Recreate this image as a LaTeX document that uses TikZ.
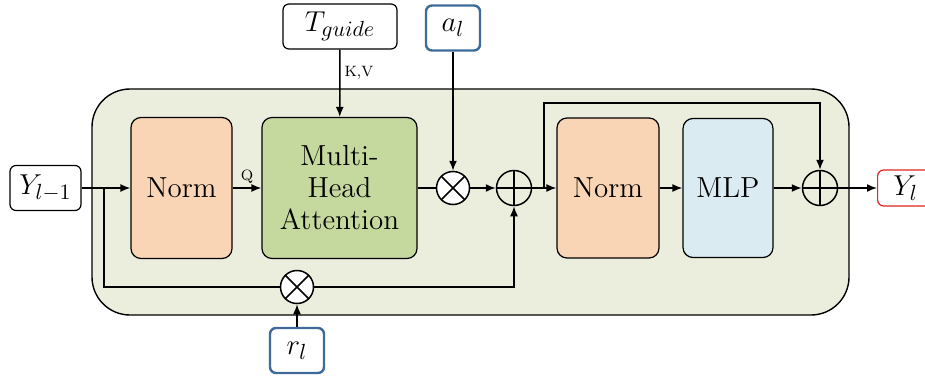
\documentclass[tikz,border=0pt]{standalone}
\usetikzlibrary{positioning,arrows.meta}
\definecolor{outerbg}{HTML}{EBEEDD}
\definecolor{normfill}{HTML}{F9D5B5}
\definecolor{attnfill}{HTML}{C5D89D}
\definecolor{mlpfill}{HTML}{DAEBF2}
\definecolor{gateblue}{HTML}{3F6A9A}
\definecolor{outred}{HTML}{E02424}
\DeclareMathSizes{14.5}{14.5}{11}{8.5}

\begin{document}
\begin{tikzpicture}[x=0.5pt, y=-0.5pt,
    >={Latex[length=5pt,width=4pt]}, line width=0.75pt,
    block/.style={draw, rounded corners=5pt, line width=0.6pt, align=center,
      inner sep=0pt, font=\fontsize{14.5}{16}\selectfont},
    tok/.style={draw, rounded corners=3pt, line width=0.6pt, fill=white,
      inner sep=0pt, minimum height=22.5pt, font=\fontsize{14.5}{16}\selectfont},
    gate/.style={tok, draw=gateblue, line width=1.2pt, minimum width=27pt},
    mulop/.style={circle, draw, fill=white, minimum size=16.5pt, inner sep=0pt,
      path picture={\draw (path picture bounding box.north west) -- (path picture bounding box.south east)
        (path picture bounding box.north east) -- (path picture bounding box.south west);}},
    addop/.style={circle, draw, minimum size=17.5pt, inner sep=0pt,
      path picture={\draw (path picture bounding box.north) -- (path picture bounding box.south)
        (path picture bounding box.west) -- (path picture bounding box.east);}},
    lab/.style={font=\fontsize{7.5}{9}\selectfont, inner sep=2pt}]
  \useasboundingbox (0,0) rectangle (925,375);

  % block frame
  \draw[fill=outerbg, rounded corners=19pt, line width=0.7pt] (92,89) rectangle (849,315);

  % inputs and blocks
  \node[tok, minimum width=35.5pt] (yin) at (45.5,188) {$Y_{l-1}$};
  \node[block, fill=normfill, minimum width=50.5pt, minimum height=70.5pt] (norm1) at (181.5,188) {Norm};
  \node[block, fill=attnfill, minimum width=77.5pt, minimum height=70.5pt] (mha) at (339.5,188) {Multi-\\Head\\Attention};
  \node[tok, minimum width=57pt] (guide) at (340,26.5) {$T_{guide}$};
  \node[gate] (al) at (453,28) {$a_l$};
  \node[mulop] (mul1) at (453,188) {};
  \node[addop] (add1) at (514,188) {};
  \node[block, fill=normfill, minimum width=51pt, minimum height=70pt] (norm2) at (608,188) {Norm};
  \node[block, fill=mlpfill, minimum width=45pt, minimum height=69.5pt] (mlp) at (728,188) {MLP};
  \node[addop] (add2) at (820,188) {};
  \node[tok, draw=outred, minimum width=28pt, minimum height=18pt, anchor=west] (yout) at (877,188) {$Y_l$};
  \node[mulop] (mul2) at (297,287) {};
  \node[gate] (rl) at (297,350.5) {$r_l$};

  \coordinate (split) at (104,188);
  \coordinate (skip) at (544,188);
  \coordinate (top) at (820,103);

  % connectors
  \draw[->] (yin) -- (norm1);
  \draw[->] (norm1) -- node[lab, above] {Q} (mha);
  \draw[->] (guide) -- node[lab, right, pos=0.35] {K,V} (mha);
  \draw (mha) -- (mul1);
  \draw[->] (al) -- (mul1);
  \draw[->] (mul1) -- (add1);
  \draw (split) |- (mul2);
  \draw[->] (rl) -- (mul2);
  \draw[->] (mul2) -| (add1);
  \draw[->] (add1) -- (norm2);
  \draw[->] (skip) |- (top) -- (add2);
  \draw[->] (norm2) -- (mlp);
  \draw[->] (mlp) -- (add2);
  \draw[->] (add2) -- (yout);
\end{tikzpicture}
\end{document}
